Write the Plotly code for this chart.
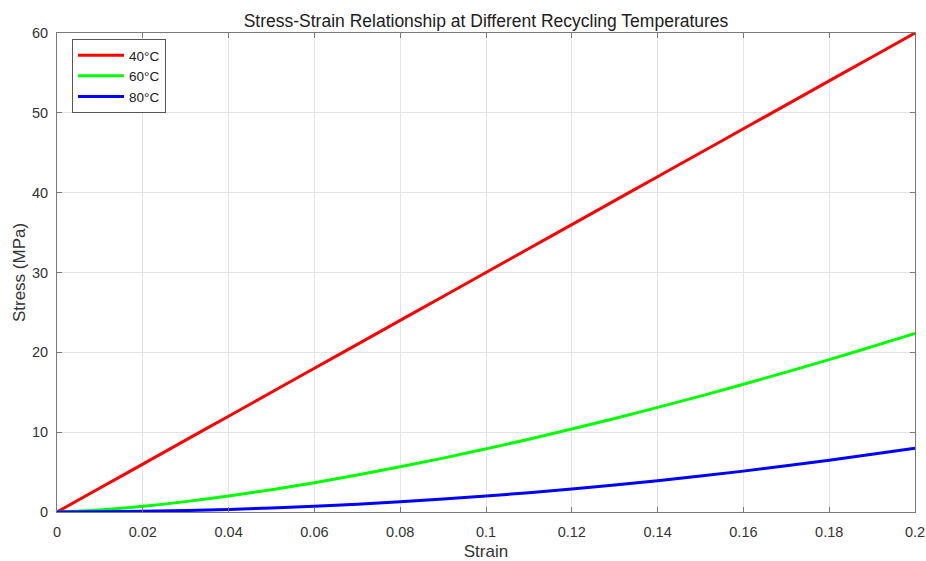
import plotly.graph_objects as go

strain = [0.0, 0.01, 0.02, 0.03, 0.04, 0.05, 0.06, 0.07, 0.08, 0.09, 0.10,
          0.11, 0.12, 0.13, 0.14, 0.15, 0.16, 0.17, 0.18, 0.19, 0.20]
stress_40 = [0, 3, 6, 9, 12, 15, 18, 21, 24, 27, 30,
             33, 36, 39, 42, 45, 48, 51, 54, 57, 60]
stress_60 = [0, 0.25, 0.71, 1.30, 2.00, 2.80, 3.67, 4.63, 5.66, 6.75, 7.91,
             9.12, 10.39, 11.72, 13.10, 14.52, 16.00, 17.52, 19.09, 20.71, 22.36]
stress_80 = [0, 0.02, 0.08, 0.18, 0.32, 0.50, 0.72, 0.98, 1.28, 1.62, 2.00,
             2.42, 2.88, 3.38, 3.92, 4.50, 5.12, 5.78, 6.48, 7.22, 8.00]
labels = ["40°C", "60°C", "80°C"]
colors = ["#ff0000", "#00ff00", "#0000ff"]
x_ticks = [0, 0.02, 0.04, 0.06, 0.08, 0.1, 0.12, 0.14, 0.16, 0.18, 0.2]
x_ticktext = ["0", "0.02", "0.04", "0.06", "0.08", "0.1", "0.12", "0.14", "0.16", "0.18", "0.2"]
y_ticks = [0, 10, 20, 30, 40, 50, 60]

fig = go.Figure()
for ys, name, c in zip([stress_40, stress_60, stress_80], labels, colors):
    fig.add_trace(go.Scatter(x=strain, y=ys, mode="lines", name=name,
                             line=dict(color=c, width=3, shape="spline")))

font_family = "Liberation Sans, Arial, sans-serif"
text_color = "#333333"
axis_common = dict(
    showline=True, linecolor="#7a7a7a", linewidth=1, mirror="ticks",
    ticks="inside", ticklen=5, tickcolor="#7a7a7a",
    showgrid=True, gridcolor="#e3e3e3", gridwidth=1,
    zeroline=False, tickfont=dict(size=14.5, color=text_color),
    automargin=False,
)
fig.update_layout(
    width=926, height=561,
    margin=dict(l=57, r=11, t=33, b=49),
    paper_bgcolor="white", plot_bgcolor="white",
    font=dict(family=font_family, color=text_color),
    title=dict(text="Stress-Strain Relationship at Different Recycling Temperatures",
               x=(57 + 915) / 2 / 926, xanchor="center", y=1 - 21 / 561, yanchor="middle",
               font=dict(size=17.5, color="#202020")),
    xaxis=dict(range=[0, 0.2], tickvals=x_ticks, ticktext=x_ticktext,
               ticklabelstandoff=7,
               title=dict(text="Strain", font=dict(size=17, color=text_color), standoff=8),
               **axis_common),
    yaxis=dict(range=[0, 60], tickvals=y_ticks, ticklabelstandoff=5,
               title=dict(text="Stress (MPa)", font=dict(size=17, color=text_color), standoff=2),
               **axis_common),
    legend=dict(x=15 / 858, y=1 - 6 / 479, xanchor="left", yanchor="top",
                bgcolor="white", bordercolor="#555555", borderwidth=1,
                font=dict(size=13.5, color="#202020"), tracegroupgap=0,
                itemwidth=46),
    showlegend=True,
)

fig.write_html("out.html", config={"displayModeBar": False},
               post_script="document.body.style.margin='0px';document.body.style.overflow='hidden';")
